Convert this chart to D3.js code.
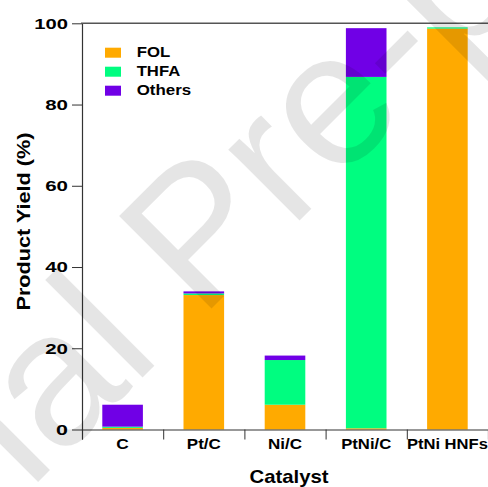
<!DOCTYPE html>
<html><head><meta charset="utf-8">
<script src="https://cdn.jsdelivr.net/npm/d3@7/dist/d3.min.js"></script>
<style>body{margin:0;background:#fff}svg{display:block}</style>
</head><body>
<svg id="c" width="488" height="487"></svg>
<script>
const categories = ["C", "Pt/C", "Ni/C", "PtNi/C", "PtNi HNFs"];
const FOL    = [0.4, 33.1, 6.1, 0.3, 98.7];
const THFA   = [0.3, 0.4, 11.0, 86.5, 0.3];
const Others = [5.4, 0.5, 1.1, 12.0, 0.0];
const seriesNames = ["FOL", "THFA", "Others"];
const colors = ["#ffaa00", "#00fd80", "#7000e6"];
const yTicks = [0, 20, 40, 60, 80, 100];
const xLabelWidths = [12.5, 34, 34, 50, 81];

const svg = d3.select("#c");
const font = "'Liberation Sans', Arial, Helvetica, sans-serif";
const L = 82, R = 488, T = 23.3, B = 429.5;

const x = d3.scaleBand().domain(categories).range([L, R]).paddingInner(0.5).paddingOuter(0.25);
const y = d3.scaleLinear().domain([0, 100]).range([B, T]);

const rows = categories.map((c, i) => ({cat: c, FOL: FOL[i], THFA: THFA[i], Others: Others[i]}));
const stack = d3.stack().keys(seriesNames)(rows);

svg.append("g").selectAll("g").data(stack).join("g")
  .attr("fill", (d, i) => colors[i])
  .selectAll("rect").data(d => d).join("rect")
  .attr("x", d => x(d.data.cat))
  .attr("width", x.bandwidth())
  .attr("y", d => y(d[1]))
  .attr("height", d => Math.max(0, y(d[0]) - y(d[1])));

// y axis
const ya = svg.append("g").attr("transform", `translate(${L},0)`)
  .call(d3.axisLeft(y).tickValues(yTicks).tickSize(10).tickPadding(4).tickSizeOuter(0));
ya.select(".domain").attr("stroke", "#333").attr("stroke-width", 1.2);
ya.selectAll(".tick line").attr("stroke", "#333");
ya.selectAll(".tick text").attr("font-family", font).attr("font-weight", "bold")
  .attr("font-size", 15.5).attr("fill", "#000")
  .attr("textLength", d => String(d).length * 10.9 + 1)
  .attr("lengthAdjust", "spacingAndGlyphs");

// x axis boundary ticks
const xb = d3.scaleLinear().domain([0, categories.length]).range([L, R]);
const xa = svg.append("g").attr("transform", `translate(0,${B})`)
  .call(d3.axisBottom(xb).tickValues(d3.range(categories.length + 1)).tickSize(10).tickFormat(""));
xa.select(".domain").attr("stroke", "#333").attr("stroke-width", 1.2);
xa.selectAll(".tick line").attr("stroke", "#333");

// x labels
svg.append("g").selectAll("text").data(categories).join("text")
  .attr("x", d => x(d) + x.bandwidth() / 2)
  .attr("y", 449)
  .attr("text-anchor", "middle")
  .attr("font-family", font).attr("font-weight", "bold").attr("font-size", 15)
  .attr("textLength", (d, i) => xLabelWidths[i])
  .attr("lengthAdjust", "spacingAndGlyphs")
  .text(d => d);

// top frame line
svg.append("line").attr("x1", L - 1).attr("x2", R).attr("y1", T).attr("y2", T)
  .attr("stroke", "#555").attr("stroke-width", 1.4);

// axis titles
svg.append("text").attr("x", 289).attr("y", 483)
  .attr("text-anchor", "middle").attr("font-family", font).attr("font-weight", "bold")
  .attr("font-size", 19).attr("textLength", 79).attr("lengthAdjust", "spacingAndGlyphs")
  .text("Catalyst");
svg.append("text").attr("transform", "translate(30,221.5) rotate(-90)")
  .attr("text-anchor", "middle").attr("font-family", font).attr("font-weight", "bold")
  .attr("font-size", 19).attr("textLength", 178).attr("lengthAdjust", "spacingAndGlyphs")
  .text("Product Yield (%)");

// legend
const legW = [33.5, 43.5, 54.5];
const leg = svg.append("g").selectAll("g").data(seriesNames).join("g")
  .attr("transform", (d, i) => `translate(105,${47.7 + i * 19})`);
leg.append("rect").attr("width", 16).attr("height", 10).attr("fill", (d, i) => colors[i]);
leg.append("text").attr("x", 31.7).attr("y", 9.6)
  .attr("font-family", font).attr("font-weight", "bold").attr("font-size", 15)
  .attr("textLength", (d, i) => legW[i]).attr("lengthAdjust", "spacingAndGlyphs")
  .text(d => d);

// watermark
svg.append("text")
  .attr("transform", "rotate(-45)")
  .attr("x", -760).attr("y", 367.7)
  .attr("font-family", font).attr("font-size", 190)
  .attr("fill", "#000").attr("fill-opacity", 0.1)
  .text("Journal Pre-proof");
</script>
</body></html>
